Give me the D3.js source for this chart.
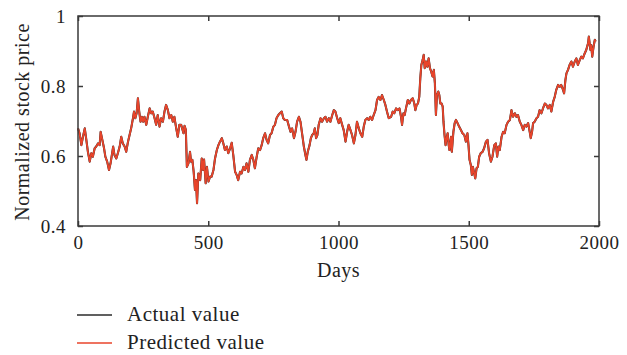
<!DOCTYPE html>
<html>
<head>
<meta charset="utf-8">
<script src="https://cdn.jsdelivr.net/npm/d3@7"></script>
<style>
  html, body { margin: 0; padding: 0; background: #fff; }
  svg { display: block; }
  text { font-family: "Liberation Serif", "DejaVu Serif", serif; fill: #222; }
</style>
</head>
<body>
<svg id="chart" width="627" height="355"></svg>
<script>
// ---- data ----
const days = [
  0,6,13,19,26,32,38,45,51,57,64,70,77,83,87,92,100,105,112,119,125,130,135,140,147,153,160,166,172,179,185,192,198,204,211,215,220,225,230,235,240,245,250,255,262,268,275,281,287,294,300,306,313,319,326,332,338,345,351,358,364,370,377,383,389,396,
  405,409,414,418,424,430,434,439,444,449,453,457,462,469,475,480,484,490,495,501,507,513,520,526,533,539,545,552,558,564,571,577,584,590,596,603,609,615,622,628,635,641,647,654,660,667,673,679,686,692,699,705,711,718,724,730,737,743,750,756,762,769,775,782,788,794,
  803,810,816,822,829,835,841,848,854,861,867,873,877,882,889,894,899,905,909,914,919,924,931,937,944,950,956,963,969,976,982,988,995,1001,1007,1014,1020,1027,1033,1039,1046,1052,1059,1065,1071,1078,1084,1091,1097,1103,1110,1116,1122,1129,1135,1142,1148,1154,1161,1167,1174,1180,1186,1193,
  1202,1208,1214,1221,1227,1234,1240,1244,1249,1254,1259,1266,1272,1278,1285,1291,1295,1300,1305,1310,1314,1318,1323,1327,1331,1336,1341,1346,1351,1356,1361,1366,1370,1374,1378,1383,1387,1391,1396,1400,1403,1407,1411,1415,1419,1423,1426,1432,1435,1441,1446,1451,1457,1463,1470,1476,1483,1489,1495,1499,1503,1508,1512,1516,1521,1525,1530,1535,1540,1546,1553,1559,1566,1572,1578,1585,1591,1598,
  1604,1609,1614,1619,1626,1632,1638,1645,1651,1658,1664,1670,1677,1683,1689,1696,1702,1709,1715,1721,1728,1734,1738,1743,1747,1753,1760,1766,1772,1779,1785,1792,1798,1804,1811,1817,1824,1830,1836,1843,1849,1855,1862,1866,1871,1875,1881,1887,1894,1900,1907,1913,1919,1926,1932,1938,1945,1951,1958,1961,1967,1970,1974,1979,1984,1987
];
const actualValue = [
  0.679,0.665,0.631,0.655,0.679,0.646,0.612,0.584,0.608,0.598,0.622,0.627,0.636,0.631,0.669,0.651,0.622,0.598,0.584,0.560,0.579,0.603,0.627,0.603,0.593,0.608,0.627,0.655,0.636,0.627,0.612,0.641,0.660,0.679,0.708,0.727,0.708,0.722,0.765,0.727,0.698,0.712,0.698,0.712,0.689,0.712,0.736,0.722,0.727,0.708,0.689,0.717,0.684,0.708,0.698,0.727,0.746,0.731,0.708,0.717,0.698,0.712,0.679,0.655,0.689,0.689,
  0.665,0.686,0.675,0.569,0.579,0.612,0.584,0.589,0.555,0.503,0.531,0.465,0.550,0.531,0.593,0.560,0.590,0.522,0.569,0.527,0.541,0.541,0.560,0.593,0.617,0.631,0.641,0.651,0.636,0.617,0.627,0.608,0.622,0.638,0.603,0.555,0.546,0.531,0.555,0.550,0.569,0.560,0.579,0.555,0.589,0.603,0.589,0.565,0.598,0.622,0.617,0.631,0.651,0.665,0.646,0.636,0.660,0.665,0.684,0.689,0.708,0.717,0.722,0.727,0.708,0.703,
  0.703,0.684,0.669,0.679,0.651,0.669,0.698,0.712,0.698,0.660,0.627,0.603,0.589,0.612,0.631,0.651,0.660,0.665,0.679,0.651,0.660,0.689,0.708,0.698,0.708,0.712,0.698,0.708,0.698,0.717,0.731,0.727,0.708,0.694,0.708,0.689,0.674,0.641,0.669,0.689,0.674,0.660,0.636,0.660,0.698,0.679,0.665,0.655,0.684,0.703,0.708,0.703,0.712,0.703,0.717,0.731,0.760,0.769,0.760,0.774,0.760,0.746,0.727,0.708,
  0.712,0.727,0.722,0.736,0.731,0.736,0.712,0.689,0.722,0.717,0.736,0.760,0.750,0.760,0.765,0.750,0.731,0.746,0.750,0.769,0.822,0.860,0.874,0.889,0.851,0.870,0.855,0.879,0.851,0.841,0.827,0.846,0.808,0.717,0.774,0.784,0.774,0.750,0.750,0.741,0.698,0.660,0.631,0.651,0.665,0.631,0.617,0.655,0.612,0.669,0.694,0.703,0.694,0.684,0.674,0.665,0.660,0.641,0.665,0.631,0.589,0.574,0.546,0.569,0.550,0.536,0.565,0.569,0.598,0.608,0.612,0.622,0.641,0.646,0.608,0.584,0.598,0.631,
  0.636,0.598,0.627,0.617,0.655,0.669,0.665,0.689,0.698,0.703,0.731,0.712,0.722,0.712,0.717,0.698,0.689,0.674,0.689,0.684,0.694,0.669,0.651,0.669,0.694,0.698,0.708,0.712,0.731,0.722,0.736,0.750,0.746,0.736,0.746,0.727,0.755,0.769,0.789,0.803,0.798,0.803,0.789,0.779,0.817,0.836,0.846,0.860,0.870,0.855,0.870,0.879,0.860,0.874,0.884,0.879,0.893,0.903,0.922,0.941,0.903,0.917,0.884,0.912,0.932,0.927
];
const predictedValue = [
  0.679,0.665,0.631,0.655,0.679,0.646,0.612,0.584,0.608,0.598,0.622,0.627,0.636,0.631,0.669,0.651,0.622,0.598,0.584,0.560,0.579,0.603,0.627,0.603,0.593,0.608,0.627,0.655,0.636,0.627,0.612,0.641,0.660,0.679,0.708,0.727,0.708,0.722,0.765,0.727,0.698,0.712,0.698,0.712,0.689,0.712,0.736,0.722,0.727,0.708,0.689,0.717,0.684,0.708,0.698,0.727,0.746,0.731,0.708,0.717,0.698,0.712,0.679,0.655,0.689,0.689,
  0.665,0.686,0.675,0.569,0.579,0.612,0.584,0.589,0.555,0.503,0.531,0.465,0.550,0.531,0.593,0.560,0.590,0.522,0.569,0.527,0.541,0.541,0.560,0.593,0.617,0.631,0.641,0.651,0.636,0.617,0.627,0.608,0.622,0.638,0.603,0.555,0.546,0.531,0.555,0.550,0.569,0.560,0.579,0.555,0.589,0.603,0.589,0.565,0.598,0.622,0.617,0.631,0.651,0.665,0.646,0.636,0.660,0.665,0.684,0.689,0.708,0.717,0.722,0.727,0.708,0.703,
  0.703,0.684,0.669,0.679,0.651,0.669,0.698,0.712,0.698,0.660,0.627,0.603,0.589,0.612,0.631,0.651,0.660,0.665,0.679,0.651,0.660,0.689,0.708,0.698,0.708,0.712,0.698,0.708,0.698,0.717,0.731,0.727,0.708,0.694,0.708,0.689,0.674,0.641,0.669,0.689,0.674,0.660,0.636,0.660,0.698,0.679,0.665,0.655,0.684,0.703,0.708,0.703,0.712,0.703,0.717,0.731,0.760,0.769,0.760,0.774,0.760,0.746,0.727,0.708,
  0.712,0.727,0.722,0.736,0.731,0.736,0.712,0.689,0.722,0.717,0.736,0.760,0.750,0.760,0.765,0.750,0.731,0.746,0.750,0.769,0.822,0.860,0.874,0.889,0.851,0.870,0.855,0.879,0.851,0.841,0.827,0.846,0.808,0.717,0.774,0.784,0.774,0.750,0.750,0.741,0.698,0.660,0.631,0.651,0.665,0.631,0.617,0.655,0.612,0.669,0.694,0.703,0.694,0.684,0.674,0.665,0.660,0.641,0.665,0.631,0.589,0.574,0.546,0.569,0.550,0.536,0.565,0.569,0.598,0.608,0.612,0.622,0.641,0.646,0.608,0.584,0.598,0.631,
  0.636,0.598,0.627,0.617,0.655,0.669,0.665,0.689,0.698,0.703,0.731,0.712,0.722,0.712,0.717,0.698,0.689,0.674,0.689,0.684,0.694,0.669,0.651,0.669,0.694,0.698,0.708,0.712,0.731,0.722,0.736,0.750,0.746,0.736,0.746,0.727,0.755,0.769,0.789,0.803,0.798,0.803,0.789,0.779,0.817,0.836,0.846,0.860,0.870,0.855,0.870,0.879,0.860,0.874,0.884,0.879,0.893,0.903,0.922,0.941,0.903,0.917,0.884,0.912,0.932,0.927
];
const xTicks = [0, 500, 1000, 1500, 2000];
const yTicks = [0.4, 0.6, 0.8, 1];
const seriesNames = ["Actual value", "Predicted value"];
const seriesColors = ["#2b2b2b", "#e8442b"];
const xLabel = "Days";
const yLabel = "Normalized stock price";

(function () {
  // ---- layout ----
  const svg = d3.select("#chart");
  const mLeft = 78, mRight = 599, mTop = 16, mBottom = 226;
  const x = d3.scaleLinear().domain([0, 2000]).range([mLeft, mRight]);
  const y = d3.scaleLinear().domain([0.4, 1]).range([mBottom, mTop]);
  const axisColor = "#3a3a3a";
  const tickFont = 19, labelFont = 20, legendFont = 21;

  // series
  const seriesData = [actualValue, predictedValue];
  const line = d3.line().x((d, i) => x(days[i])).y(d => y(d));
  seriesData.forEach((vals, k) => {
    svg.append("path")
      .datum(vals)
      .attr("fill", "none")
      .attr("stroke", seriesColors[k])
      .attr("stroke-width", k === 0 ? 2.1 : 1.8)
      .attr("stroke-linejoin", "round")
      .attr("d", line);
  });

  // axes (box with inward ticks)
  const tickLen = 5;
  const gB = svg.append("g").attr("transform", `translate(0,${mBottom})`)
    .call(d3.axisBottom(x).tickValues(xTicks).tickSizeInner(-tickLen).tickSizeOuter(0).tickPadding(10).tickFormat(d3.format("d")));
  const gT = svg.append("g").attr("transform", `translate(0,${mTop})`)
    .call(d3.axisTop(x).tickValues(xTicks).tickSizeInner(-tickLen).tickSizeOuter(0).tickFormat(""));
  const gL = svg.append("g").attr("transform", `translate(${mLeft},0)`)
    .call(d3.axisLeft(y).tickValues(yTicks).tickSizeInner(-tickLen).tickSizeOuter(0).tickPadding(12).tickFormat(d => d === 1 ? "1" : d3.format(".1f")(d)));
  const gR = svg.append("g").attr("transform", `translate(${mRight},0)`)
    .call(d3.axisRight(y).tickValues(yTicks).tickSizeInner(-tickLen).tickSizeOuter(0).tickFormat(""));
  [gB, gT, gL, gR].forEach(g => {
    g.select(".domain").remove();
    g.selectAll(".tick line").attr("stroke", axisColor).attr("stroke-width", 1.5);
    g.selectAll(".tick text").attr("font-size", tickFont).attr("letter-spacing", 0.5)
      .attr("font-family", "Liberation Serif, serif").attr("fill", "#222");
  });
  svg.append("rect")
    .attr("x", mLeft).attr("y", mTop).attr("width", mRight - mLeft).attr("height", mBottom - mTop)
    .attr("fill", "none").attr("stroke", axisColor).attr("stroke-width", 1.5);

  // axis labels
  svg.append("text").attr("x", (mLeft + mRight) / 2).attr("y", 277)
    .attr("text-anchor", "middle").attr("font-size", labelFont).attr("letter-spacing", 0.5).text(xLabel);
  svg.append("text").attr("transform", `translate(29,${(mTop + mBottom) / 2 + 1}) rotate(-90)`)
    .attr("text-anchor", "middle").attr("font-size", labelFont).attr("letter-spacing", 0.5).text(yLabel);

  // legend
  seriesNames.forEach((name, k) => {
    const ly = 315 + k * 28;
    svg.append("line").attr("x1", 77).attr("x2", 112).attr("y1", ly).attr("y2", ly)
      .attr("stroke", seriesColors[k]).attr("stroke-width", 1.3);
    svg.append("text").attr("x", 127).attr("y", ly + 6).attr("font-size", legendFont)
      .attr("letter-spacing", 0.5).text(name);
  });
})();
</script>
</body>
</html>
